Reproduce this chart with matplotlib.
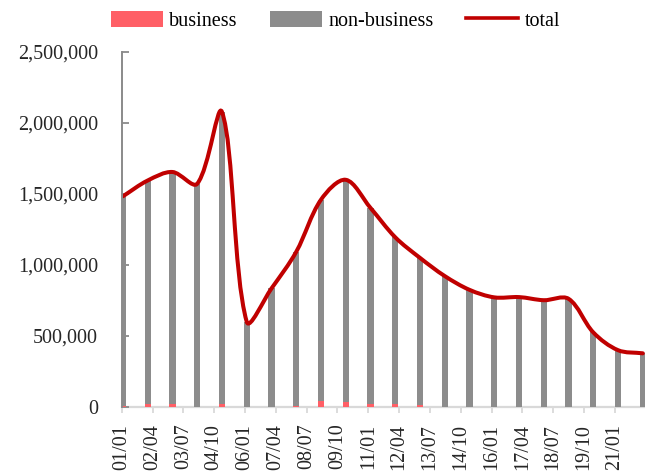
import numpy as np
import matplotlib
matplotlib.use("Agg")
import matplotlib.pyplot as plt
from matplotlib.path import Path
from matplotlib.patches import PathPatch, Patch
from matplotlib.lines import Line2D

# ---- data ----
years = list(range(2001, 2023))
total = [1484000, 1595000, 1655000, 1572000, 2078000, 600000, 835000, 1093000,
         1460000, 1600000, 1402000, 1195000, 1050000, 922000, 825000, 772000,
         774000, 752000, 762000, 525000, 400000, 378000]
business = [8000, 22000, 22000, 3000, 22000, 3000, 3000, 8000, 40000, 36000,
            22000, 22000, 12000, 2000, 2000, 2000, 2000, 2000, 2000, 2000,
            2000, 2000]
non_business = [t - b for t, b in zip(total, business)]
tick_labels = ['01/01', '02/04', '03/07', '04/10', '06/01', '07/04', '08/07',
               '09/10', '11/01', '12/04', '13/07', '14/10', '16/01', '17/04',
               '18/07', '19/10', '21/01']
tick_months = [15 * i for i in range(len(tick_labels))]

# x position in months since 2001-01
xs = np.array([(y - 2001) * 12.05 + 0.6 for y in years])

PINK = '#ff5f66'
GRAY = '#8c8c8c'
RED = '#c00000'
FONT = 'Liberation Serif'
FS = 14.5

plt.rcParams['font.family'] = [FONT, 'DejaVu Serif']

fig = plt.figure(figsize=(6.45, 4.75), dpi=100)
ax = fig.add_axes([121.7 / 645, 1 - 407 / 475, 1 - 121.7 / 645, (407 - 52) / 475])
ax.set_xlim(0, 254.7)
ax.set_ylim(0, 2500000)

ax.bar(xs, business, width=3.0, color=PINK, zorder=2, linewidth=0)
ax.bar(xs, non_business, width=3.0, bottom=business, color=GRAY, zorder=2, linewidth=0)

# smoothed line (Excel-like Bezier smoothing computed in display space)
pts = ax.transData.transform(np.column_stack([xs, total]))
n = len(pts)
verts = [pts[0]]
codes = [Path.MOVETO]
for i in range(n - 1):
    p0 = pts[i - 1] if i > 0 else pts[i]
    p1 = pts[i]
    p2 = pts[i + 1]
    p3 = pts[i + 2] if i + 2 < n else pts[i + 1]
    d01 = np.hypot(*(p1 - p0))
    d12 = np.hypot(*(p2 - p1))
    d23 = np.hypot(*(p3 - p2))
    c1 = p1 + (p2 - p0) * (d12 / (d01 + d12)) / 3 if d01 + d12 > 0 else p1
    c2 = p2 - (p3 - p1) * (d12 / (d12 + d23)) / 3 if d12 + d23 > 0 else p2
    verts += [c1, c2, p2]
    codes += [Path.CURVE4] * 3
verts_data = ax.transData.inverted().transform(np.array(verts))
path = Path(verts_data, codes)
ax.add_patch(PathPatch(path, fill=False, edgecolor=RED, linewidth=2.9,
                       zorder=3, capstyle='round', joinstyle='round'))

# axes styling
for s in ['top', 'right']:
    ax.spines[s].set_visible(False)
ax.spines['left'].set_color('#8a8a8a')
ax.spines['left'].set_linewidth(1.4)
ax.spines['bottom'].set_color('#d9d9d9')
ax.spines['bottom'].set_linewidth(1.6)
ax.spines['left'].set_zorder(4)
ax.spines['bottom'].set_zorder(1)

ax.set_yticks([0, 500000, 1000000, 1500000, 2000000, 2500000])
ax.set_yticklabels(['{:,}'.format(v) for v in [0, 500000, 1000000, 1500000, 2000000, 2500000]],
                   fontsize=FS, color='#262626')
ax.tick_params(axis='y', direction='in', length=5, width=1.3, color='#8a8a8a', pad=17)

ax.set_xticks(tick_months)
ax.set_xticklabels(tick_labels, rotation=90, fontsize=FS, color='#262626')
ax.tick_params(axis='x', direction='out', length=4, width=1.3, color='#d9d9d9', pad=8)

handles = [Patch(facecolor=PINK, edgecolor='none'),
           Patch(facecolor=GRAY, edgecolor='none'),
           Line2D([], [], color=RED, linewidth=2.6)]
fig.legend(handles, ['business', 'non-business', 'total'], loc='center',
           bbox_to_anchor=(0.52, 0.956), ncol=3, frameon=False, fontsize=FS,
           handlelength=2.6, handleheight=0.9, handletextpad=0.3,
           columnspacing=1.6, borderpad=0.2)

fig.savefig('out.png', dpi=100)
